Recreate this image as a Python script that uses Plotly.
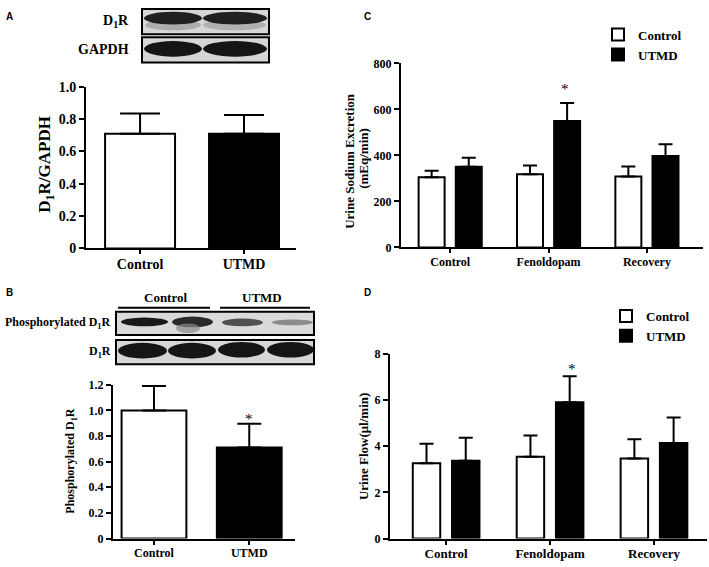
import plotly.graph_objects as go

W, H = 709, 567

# ---------------- data ----------------
a_categories = ["Control", "UTMD"]
a_values = [0.71, 0.71]
a_err_top = [0.835, 0.825]

b_categories = ["Control", "UTMD"]
b_values = [1.00, 0.71]
b_err_top = [1.19, 0.895]

phase_categories = ["Control", "Fenoldopam", "Recovery"]
c_control = [305, 318, 309]
c_control_err_top = [334, 356, 352]
c_utmd = [351, 550, 398]
c_utmd_err_top = [390, 628, 449]

d_control = [3.26, 3.54, 3.46]
d_control_err_top = [4.10, 4.46, 4.29]
d_utmd = [3.37, 5.90, 4.13]
d_utmd_err_top = [4.36, 7.02, 5.24]

a_yticks = [0, 0.2, 0.4, 0.6, 0.8, 1.0]
a_yticklabels = ["0", "0.2", "0.4", "0.6", "0.8", "1.0"]
b_yticks = [0, 0.2, 0.4, 0.6, 0.8, 1.0, 1.2]
b_yticklabels = ["0", "0.2", "0.4", "0.6", "0.8", "1.0", "1.2"]
c_yticks = [0, 200, 400, 600, 800]
d_yticks = [0, 2, 4, 6, 8]

SERIF = "Liberation Serif"


def px(x):
    return x / W


def py(y):
    return 1 - y / H


def plus(tops, vals):
    return [t - v for t, v in zip(tops, vals)]


fig = go.Figure()

# Panel A
fig.add_trace(go.Bar(
    x=a_categories, y=a_values, xaxis="x", yaxis="y",
    width=0.673, offset=-0.3365,
    marker=dict(color=["white", "black"], line=dict(color="black", width=2)),
    error_y=dict(type="data", symmetric=False, array=plus(a_err_top, a_values),
                 arrayminus=[0, 0], color="black", thickness=2, width=20),
    showlegend=False,
))
# Panel B
fig.add_trace(go.Bar(
    x=b_categories, y=b_values, xaxis="x2", yaxis="y2",
    width=0.68, offset=-0.34,
    marker=dict(color=["white", "black"], line=dict(color="black", width=2)),
    error_y=dict(type="data", symmetric=False, array=plus(b_err_top, b_values),
                 arrayminus=[0, 0], color="black", thickness=2, width=12),
    showlegend=False,
))
# Panel C
fig.add_trace(go.Bar(
    name="Control", x=phase_categories, y=c_control, xaxis="x3", yaxis="y3",
    marker=dict(color="white", line=dict(color="black", width=2)),
    error_y=dict(type="data", symmetric=False, array=plus(c_control_err_top, c_control),
                 arrayminus=[0, 0, 0], color="black", thickness=2, width=7),
    legend="legend",
))
fig.add_trace(go.Bar(
    name="UTMD", x=phase_categories, y=c_utmd, xaxis="x3", yaxis="y3",
    marker=dict(color="black", line=dict(color="black", width=2)),
    error_y=dict(type="data", symmetric=False, array=plus(c_utmd_err_top, c_utmd),
                 arrayminus=[0, 0, 0], color="black", thickness=2, width=7),
    legend="legend",
))
# Panel D
fig.add_trace(go.Bar(
    name="Control", x=phase_categories, y=d_control, xaxis="x4", yaxis="y4",
    marker=dict(color="white", line=dict(color="black", width=2)),
    error_y=dict(type="data", symmetric=False, array=plus(d_control_err_top, d_control),
                 arrayminus=[0, 0, 0], color="black", thickness=2, width=7),
    legend="legend2",
))
fig.add_trace(go.Bar(
    name="UTMD", x=phase_categories, y=d_utmd, xaxis="x4", yaxis="y4",
    marker=dict(color="black", line=dict(color="black", width=2)),
    error_y=dict(type="data", symmetric=False, array=plus(d_utmd_err_top, d_utmd),
                 arrayminus=[0, 0, 0], color="black", thickness=2, width=7),
    legend="legend2",
))


def xax(domain, rng, size):
    return dict(domain=domain, range=rng, showline=True, linecolor="black", linewidth=2,
                ticks="outside", ticklen=4, tickwidth=2, tickcolor="black",
                showgrid=False, zeroline=False, fixedrange=True, ticklabelstandoff=-2,
                tickfont=dict(family=SERIF, size=size, color="black", weight="bold"))


def yax(domain, rng, tickvals, ticktext, size, anchor):
    return dict(domain=domain, range=rng, tickvals=tickvals, ticktext=ticktext,
                showline=True, linecolor="black", linewidth=2,
                ticks="outside", ticklen=5, tickwidth=2, tickcolor="black",
                showgrid=False, zeroline=False, anchor=anchor, fixedrange=True,
                tickfont=dict(family=SERIF, size=size, color="black", weight="bold"))


fig.update_layout(
    width=W, height=H, margin=dict(l=0, r=0, t=0, b=0),
    paper_bgcolor="white", plot_bgcolor="white",
    barmode="group", bargap=0.245, bargroupgap=0.30,
    xaxis=dict(**xax([px(86), px(296)], [-0.52, 1.5], 14), anchor="y"),
    yaxis=yax([py(248), py(82)], [0, 1.0], a_yticks, a_yticklabels, 14, "x"),
    xaxis2=dict(**xax([px(113), px(295)], [-0.43, 1.48], 12), anchor="y2"),
    yaxis2=yax([py(546), py(388)], [0, 1.2], b_yticks, b_yticklabels, 12, "x2"),
    xaxis3=dict(**xax([px(401), px(703)], [-0.5, 2.57], 12), anchor="y3"),
    yaxis3=yax([py(247), py(58)], [0, 800], c_yticks, [str(v) for v in c_yticks], 12, "x3"),
    xaxis4=dict(**xax([px(390), px(707)], [-0.54, 2.51], 13), anchor="y4"),
    yaxis4=yax([py(546), py(356)], [0, 8], d_yticks, [str(v) for v in d_yticks], 12, "x4"),
    legend=dict(x=px(598), y=py(13), xanchor="left", yanchor="top",
                font=dict(family=SERIF, size=13, color="black", weight="bold"),
                bgcolor="rgba(0,0,0,0)", tracegroupgap=0, itemclick=False),
    legend2=dict(x=px(606), y=py(302), xanchor="left", yanchor="top",
                 font=dict(family=SERIF, size=13, color="black", weight="bold"),
                 bgcolor="rgba(0,0,0,0)", tracegroupgap=0, itemclick=False),
)

ann = []


def text(x, y, s, size, xanchor="center", angle=0, family=SERIF, weight="bold"):
    ann.append(dict(x=px(x), y=py(y), xref="paper", yref="paper", text=s,
                    showarrow=False, xanchor=xanchor, yanchor="middle", textangle=angle,
                    font=dict(family=family, size=size, color="black", weight=weight)))


# panel letters
text(9, 10, "A", 10, family="Liberation Sans")
text(9, 293, "B", 10, family="Liberation Sans")
text(367, 10, "C", 10, family="Liberation Sans")
text(367, 293, "D", 10, family="Liberation Sans")

# axis titles
text(46, 162, "D<sub>1</sub>R/GAPDH", 17, angle=-90)
text(71, 466, "Phosphorylated D<sub>1</sub>R", 12, angle=-90)
text(350, 158, "Urine Sodium Excretion", 13, angle=-90)
text(364, 156, "(mEq/min)", 13, angle=-90)
text(363, 452, "Urine Flow(μl/min)", 13, angle=-90)

# asterisks
text(249, 423, "*", 15, weight="normal")
text(565, 84, "*", 15, weight="normal")
text(572, 372, "*", 15, weight="normal")

# blot labels
text(131, 15, "D<sub>1</sub>R", 14, xanchor="right")
text(131, 44, "GAPDH", 14, xanchor="right")
text(113, 325, "Phosphorylated D<sub>1</sub>R", 12, xanchor="right")
text(113, 354, "D<sub>1</sub>R", 12, xanchor="right")
text(165, 298, "Control", 13)
text(262, 298, "UTMD", 13)

shapes = []


def rect(x0, y0, x1, y1, fill, line="black", lw=2):
    shapes.append(dict(type="rect", xref="paper", yref="paper",
                       x0=px(x0), x1=px(x1), y0=py(y1), y1=py(y0),
                       fillcolor=fill, line=dict(color=line, width=lw), layer="above"))


def band(x0, y0, x1, y1, fill, opacity=1.0):
    shapes.append(dict(type="circle", xref="paper", yref="paper",
                       x0=px(x0), x1=px(x1), y0=py(y1), y1=py(y0),
                       fillcolor=fill, opacity=opacity, line=dict(width=0), layer="above"))


def hline(x0, x1, y, lw=2):
    shapes.append(dict(type="line", xref="paper", yref="paper",
                       x0=px(x0), x1=px(x1), y0=py(y), y1=py(y),
                       line=dict(color="black", width=lw), layer="above"))


# Panel A blots
rect(142, 2, 269, 28, "#d6d6d6")
band(145, 13, 201, 24, "#9a9a9a", 0.7)
band(203, 13, 266, 24, "#a0a0a0", 0.7)
band(144, 5, 202, 18, "#202020")
band(203, 5, 267, 18, "#202020")
rect(142, 31, 269, 57, "#d6d6d6")
band(144, 35, 202, 51, "#151515")
band(203, 35, 267, 51, "#151515")

# Panel B blots
hline(118, 210, 309)
hline(220, 310, 309)
rect(116, 313, 314, 337, "#dadada")
band(121, 319, 168, 328, "#1a1a1a")
band(172, 318, 213, 329, "#2a2a2a")
band(176, 325, 200, 335, "#8a8a8a", 0.7)
band(222, 320, 263, 328, "#505050")
band(272, 321, 313, 327, "#8c8c8c")
rect(116, 342, 314, 367, "#d6d6d6")
band(118, 345, 167, 361, "#151515")
band(168, 345, 216, 361, "#151515")
band(218, 344, 265, 360, "#151515")
band(267, 344, 314, 360, "#151515")

fig.update_layout(annotations=ann, shapes=shapes)

fig.write_html("out.html", post_script="document.body.style.margin='0';",
               config={"displayModeBar": False})
